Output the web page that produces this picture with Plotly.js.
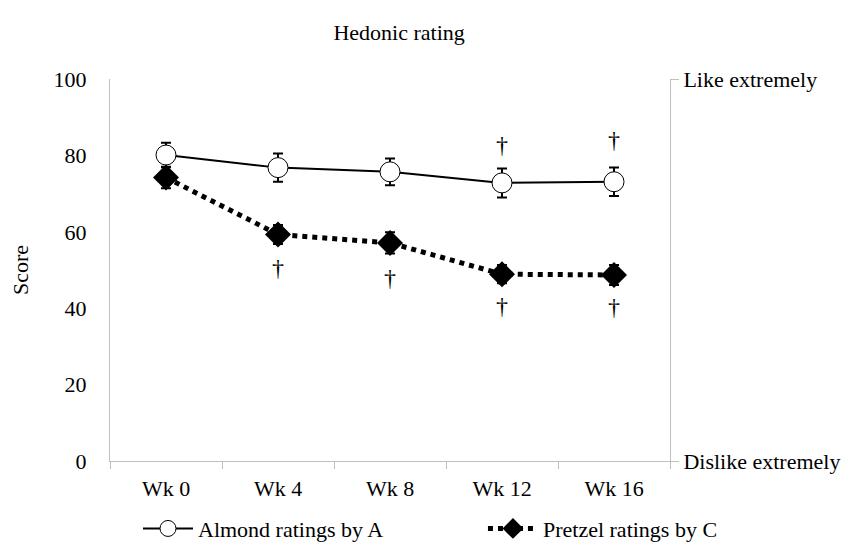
<!DOCTYPE html>
<html><head><meta charset="utf-8">
<script src="https://cdn.plot.ly/plotly-3.0.1.min.js"></script>
<style>html,body{margin:0;padding:0;background:#fff}#chart{width:842px;height:545px}</style>
</head><body><div id="chart"></div>
<script>
const weeks = ["Wk 0", "Wk 4", "Wk 8", "Wk 12", "Wk 16"];
const almond = [80.1, 76.8, 75.7, 72.8, 73.1];
const almondErr = [3.2, 3.7, 3.5, 3.8, 3.7];
const pretzel = [74.2, 59.3, 57.1, 48.9, 48.7];
const pretzelErr = [2.8, 2.5, 2.75, 2.4, 2.6];
const daggerAboveX = ["Wk 12", "Wk 16"];
const daggerAboveY = [82.3, 83.4];
const daggerBelowX = ["Wk 4", "Wk 8", "Wk 12", "Wk 16"];
const daggerBelowY = [50.0, 47.4, 40.0, 39.7];
const leftTickVals = [0, 20, 40, 60, 80, 100];
const rightTickVals = [0, 100];
const rightTickText = ["Dislike extremely", "Like extremely"];

const FONT = "Liberation Serif, Times New Roman, serif";
const grey = "#bfbfbf";
const FS = 22;

const traces = [
  {
    x: weeks, y: almond, name: "Almond ratings by A", type: "scatter", mode: "lines+markers",
    legend: "legend",
    line: {color: "#000", width: 2},
    marker: {symbol: "circle", size: 20, color: "#fff", line: {color: "#000", width: 1}},
    error_y: {type: "data", array: almondErr, visible: true, color: "#000", thickness: 2, width: 5}
  },
  {
    x: weeks, y: pretzel, name: "Pretzel ratings by C", type: "scatter", mode: "lines+markers",
    legend: "legend2",
    line: {color: "#000", width: 5, dash: "dot"},
    marker: {symbol: "diamond", size: 20, color: "#000", line: {color: "#000", width: 0}},
    error_y: {type: "data", array: pretzelErr, visible: true, color: "#000", thickness: 2, width: 5}
  },
  {
    x: daggerAboveX, y: daggerAboveY, type: "scatter", mode: "text", text: daggerAboveX.map(() => "†"),
    textfont: {family: FONT, size: 24, color: "#000000"}, showlegend: false, hoverinfo: "skip"
  },
  {
    x: daggerBelowX, y: daggerBelowY, type: "scatter", mode: "text", text: daggerBelowX.map(() => "†"),
    textfont: {family: FONT, size: 24, color: "#000000"}, showlegend: false, hoverinfo: "skip"
  },
  {
    x: [weeks[0]], y: [null], yaxis: "y2", type: "scatter", mode: "markers", showlegend: false, hoverinfo: "skip"
  }
];

const legendBase = {
  orientation: "h", yref: "container", y: 0.03, yanchor: "middle", xanchor: "left",
  bgcolor: "rgba(0,0,0,0)", font: {family: FONT, size: FS, color: "#000"}, itemwidth: 50
};

const layout = {
  width: 842, height: 545,
  margin: {l: 110, r: 172, t: 79, b: 84},
  paper_bgcolor: "#fff", plot_bgcolor: "#fff",
  font: {family: FONT, size: FS, color: "#000"},
  title: {text: "Hedonic rating", font: {family: FONT, size: FS, color: "#000"},
          x: 0.474, xanchor: "center", y: 0.94, yref: "container", yanchor: "middle"},
  xaxis: {
    type: "category", range: [-0.5, 4.5], showgrid: false, zeroline: false,
    showline: true, linecolor: grey, linewidth: 1,
    ticks: "outside", tickson: "boundaries", ticklen: 7, tickcolor: grey, tickwidth: 1,
    ticklabelstandoff: 8,
    tickfont: {family: FONT, size: FS, color: "#000"}
  },
  yaxis: {
    range: [0, 100], tickvals: leftTickVals, showgrid: false, zeroline: false,
    showline: true, linecolor: grey, linewidth: 1,
    ticks: "outside", ticklen: 18, tickcolor: "rgba(0,0,0,0)",
    tickfont: {family: FONT, size: FS, color: "#000"},
    title: {text: "Score", font: {family: FONT, size: FS, color: "#000"}, standoff: 18}
  },
  yaxis2: {
    overlaying: "y", side: "right", range: [0, 100],
    tickvals: rightTickVals, ticktext: rightTickText,
    showgrid: false, zeroline: false, showline: true, linecolor: grey, linewidth: 1,
    ticks: "outside", ticklen: 8, tickcolor: grey,
    tickfont: {family: FONT, size: FS, color: "#000"}
  },
  legend: Object.assign({}, legendBase, {x: 0.05}),
  legend2: Object.assign({}, legendBase, {x: 0.666}),
  showlegend: true
};

Plotly.newPlot("chart", traces, layout, {displayModeBar: false, staticPlot: true});
</script>
</body></html>
